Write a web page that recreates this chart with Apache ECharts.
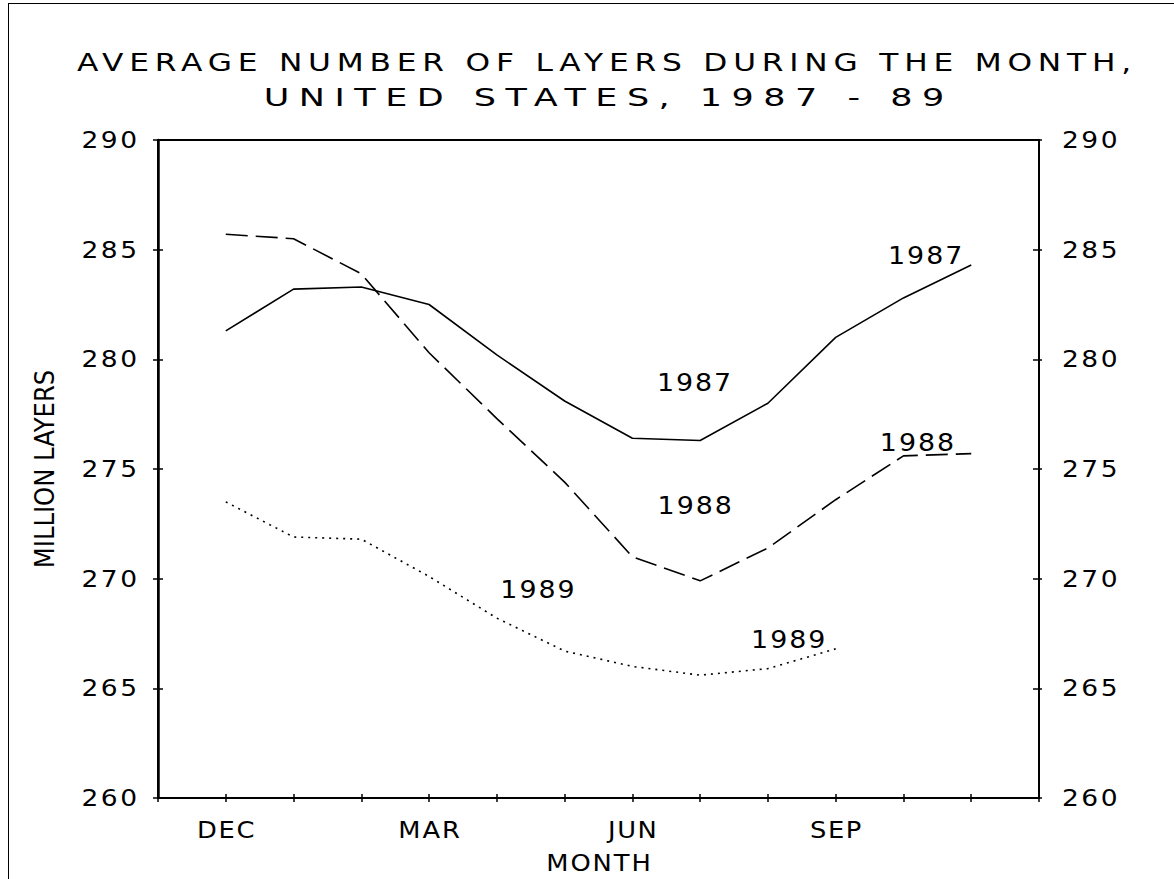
<!DOCTYPE html>
<html>
<head>
<meta charset="utf-8">
<script src="https://cdn.jsdelivr.net/npm/echarts@6/dist/echarts.min.js"></script>
<style>
html,body{margin:0;padding:0;background:#fff;}
#chart{position:absolute;left:0;top:0;width:1174px;height:879px;}
#frame{position:absolute;left:8px;top:3px;width:1166px;height:876px;border-left:1px solid #000;border-top:1px solid #000;pointer-events:none;box-sizing:border-box;}
</style>
</head>
<body>
<div id="chart"></div>
<div id="frame"></div>
<script>
// ---- data ----
const months = ['DEC','JAN','FEB','MAR','APR','MAY','JUN','JUL','AUG','SEP','OCT','NOV'];
const labeledMonths = ['DEC','MAR','JUN','SEP'];
const y1987 = [281.3, 283.2, 283.3, 282.5, 280.2, 278.1, 276.4, 276.3, 278.0, 281.0, 282.8, 284.3];
const y1988 = [285.7, 285.5, 283.9, 280.3, 277.3, 274.4, 271.0, 269.9, 271.4, 273.6, 275.6, 275.7];
const y1989 = [273.5, 271.9, 271.8, 270.1, 268.2, 266.7, 266.0, 265.6, 265.9, 266.8, null, null];
// year annotations, anchored in data space [month index, million layers]
const notes1987 = [[6.91, 278.9], [10.32, 284.7]];
const notes1988 = [[6.92, 273.3], [10.2, 276.2]];
const notes1989 = [[4.6, 269.5], [8.3, 267.2]];
const yMin = 260, yMax = 290, yStep = 5;

const FONT = 'DejaVu Sans';
const toPairs = arr => arr.map((v, i) => [i, v]);

function notePoints(list, name) {
  return {
    symbol: 'rect',
    symbolSize: 1,
    silent: true,
    itemStyle: { color: 'rgba(0,0,0,0)' },
    label: { show: true, position: 'inside', formatter: name, color: '#000', fontSize: 24, fontFamily: FONT },
    data: list.map(c => ({ coord: c }))
  };
}

function lineSeries(name, arr, type, notes) {
  return {
    type: 'line', name: name, data: toPairs(arr), xAxisIndex: 0, yAxisIndex: 0,
    symbol: 'none', connectNulls: false,
    lineStyle: { color: '#000', width: 1.6, type: type },
    markPoint: notePoints(notes, name)
  };
}

const xCommon = {
  type: 'value', min: -1, max: 12, interval: 1, gridIndex: 0,
  splitLine: { show: false }
};
const yCommon = {
  type: 'value', min: yMin, max: yMax, interval: yStep, gridIndex: 0,
  splitLine: { show: false }
};
const axisLbl = { color: '#000', fontSize: 23, fontFamily: FONT };

const chart = echarts.init(document.getElementById('chart'), null, { renderer: 'svg' });
chart.setOption({
  animation: false,
  backgroundColor: '#fff',
  title: {
    text: 'AVERAGE NUMBER OF LAYERS DURING THE MONTH,\nUNITED STATES, 1987 - 89',
    left: 599, top: 40,
    textAlign: 'center',
    textStyle: { color: '#000', fontSize: 25, fontWeight: 'normal', fontFamily: FONT, lineHeight: 35 }
  },
  grid: { left: 158, right: 135, top: 140, bottom: 79, show: true, borderColor: '#000', borderWidth: 2, backgroundColor: 'transparent' },
  xAxis: [
    Object.assign({}, xCommon, {
      position: 'bottom',
      name: 'MONTH', nameLocation: 'middle', nameGap: 53,
      nameTextStyle: axisLbl,
      axisLine: { show: true, onZero: false, lineStyle: { color: '#000', width: 2 } },
      axisTick: { show: true, length: 4, lineStyle: { color: '#000', width: 1.5 } },
      axisLabel: Object.assign({}, axisLbl, {
        margin: 20,
        formatter: v => { const m = months[v]; return (m && labeledMonths.indexOf(m) >= 0) ? m : ''; }
      })
    }),
    Object.assign({}, xCommon, {
      position: 'bottom',
      axisLine: { show: false, onZero: false },
      axisTick: { show: true, inside: true, length: 4, lineStyle: { color: '#000', width: 1.5 } },
      axisLabel: { show: false }
    })
  ],
  yAxis: [
    Object.assign({}, yCommon, {
      position: 'left',
      name: 'MILLION LAYERS', nameLocation: 'middle', nameRotate: 90, nameGap: 100,
      nameTextStyle: { color: '#000', fontSize: 27, fontFamily: 'Liberation Sans Narrow, DejaVu Sans Condensed, Liberation Sans' },
      axisLine: { show: true, onZero: false, lineStyle: { color: '#000', width: 2.5 } },
      axisTick: { show: true, length: 5, lineStyle: { color: '#000', width: 1.5 } },
      axisLabel: Object.assign({}, axisLbl, { margin: 21 })
    }),
    Object.assign({}, yCommon, {
      position: 'right',
      axisLine: { show: true, onZero: false, lineStyle: { color: '#000', width: 2 } },
      axisTick: { show: true, length: 3, lineStyle: { color: '#000', width: 1.5 } },
      axisLabel: Object.assign({}, axisLbl, { margin: 23 })
    }),
    Object.assign({}, yCommon, {
      position: 'left',
      axisLine: { show: false, onZero: false },
      axisTick: { show: true, inside: true, length: 5, lineStyle: { color: '#000', width: 1.5 } },
      axisLabel: { show: false }
    }),
    Object.assign({}, yCommon, {
      position: 'right',
      axisLine: { show: false, onZero: false },
      axisTick: { show: true, inside: true, length: 6, lineStyle: { color: '#000', width: 1.5 } },
      axisLabel: { show: false }
    })
  ],
  series: [
    lineSeries('1987', y1987, 'solid', notes1987),
    lineSeries('1988', y1988, [22, 8], notes1988),
    lineSeries('1989', y1989, [2, 5], notes1989)
  ]
});

// widen the lettering like the original plotter font:
// stretch glyphs a little and spread letters (SVG textLength + letter-spacing)
function widen(t, target, stretch) {
  let nat = parseFloat(t.getAttribute('data-nat'));
  if (!nat) {
    t.removeAttribute('letter-spacing');
    t.removeAttribute('textLength');
    nat = t.getComputedTextLength();
    t.setAttribute('data-nat', nat);
  }
  const n = (t.textContent || '').length;
  if (!n || !nat) return;
  if (target < nat) target = nat;
  const ls = Math.max(0, (target / stretch - nat) / n);
  t.setAttribute('letter-spacing', ls.toFixed(2));
  t.setAttribute('textLength', target.toFixed(1));
  t.setAttribute('lengthAdjust', 'spacingAndGlyphs');
  const trail = ls * target / (nat + n * ls);
  const anchor = t.getAttribute('text-anchor') || getComputedStyle(t).textAnchor;
  if (anchor === 'middle') t.setAttribute('dx', (trail / 2).toFixed(2));
  else if (anchor === 'end') t.setAttribute('dx', trail.toFixed(2));
}
function applySpacing() {
  document.querySelectorAll('#chart svg text').forEach(t => {
    const fs = parseFloat(getComputedStyle(t).fontSize);
    const txt = (t.textContent || '').trim();
    if (!txt) return;
    let nat = parseFloat(t.getAttribute('data-nat'));
    if (!nat) { nat = t.getComputedTextLength(); }
    if (Math.abs(fs - 25) < 0.2) {
      if (txt.indexOf('AVERAGE') === 0) widen(t, 1060, 1.25);
      else widen(t, 690, 1.4);
    } else if (Math.abs(fs - 23) < 0.2) {
      if (/^\d+$/.test(txt)) widen(t, nat * 1.32, 1.15);
      else widen(t, nat * 1.23, 1.12);
    } else if (Math.abs(fs - 24) < 0.2) {
      widen(t, nat * 1.25, 1.12);
    }
  });
}
applySpacing();
chart.on('finished', applySpacing);
setTimeout(applySpacing, 0);
setTimeout(applySpacing, 200);
</script>
</body>
</html>
